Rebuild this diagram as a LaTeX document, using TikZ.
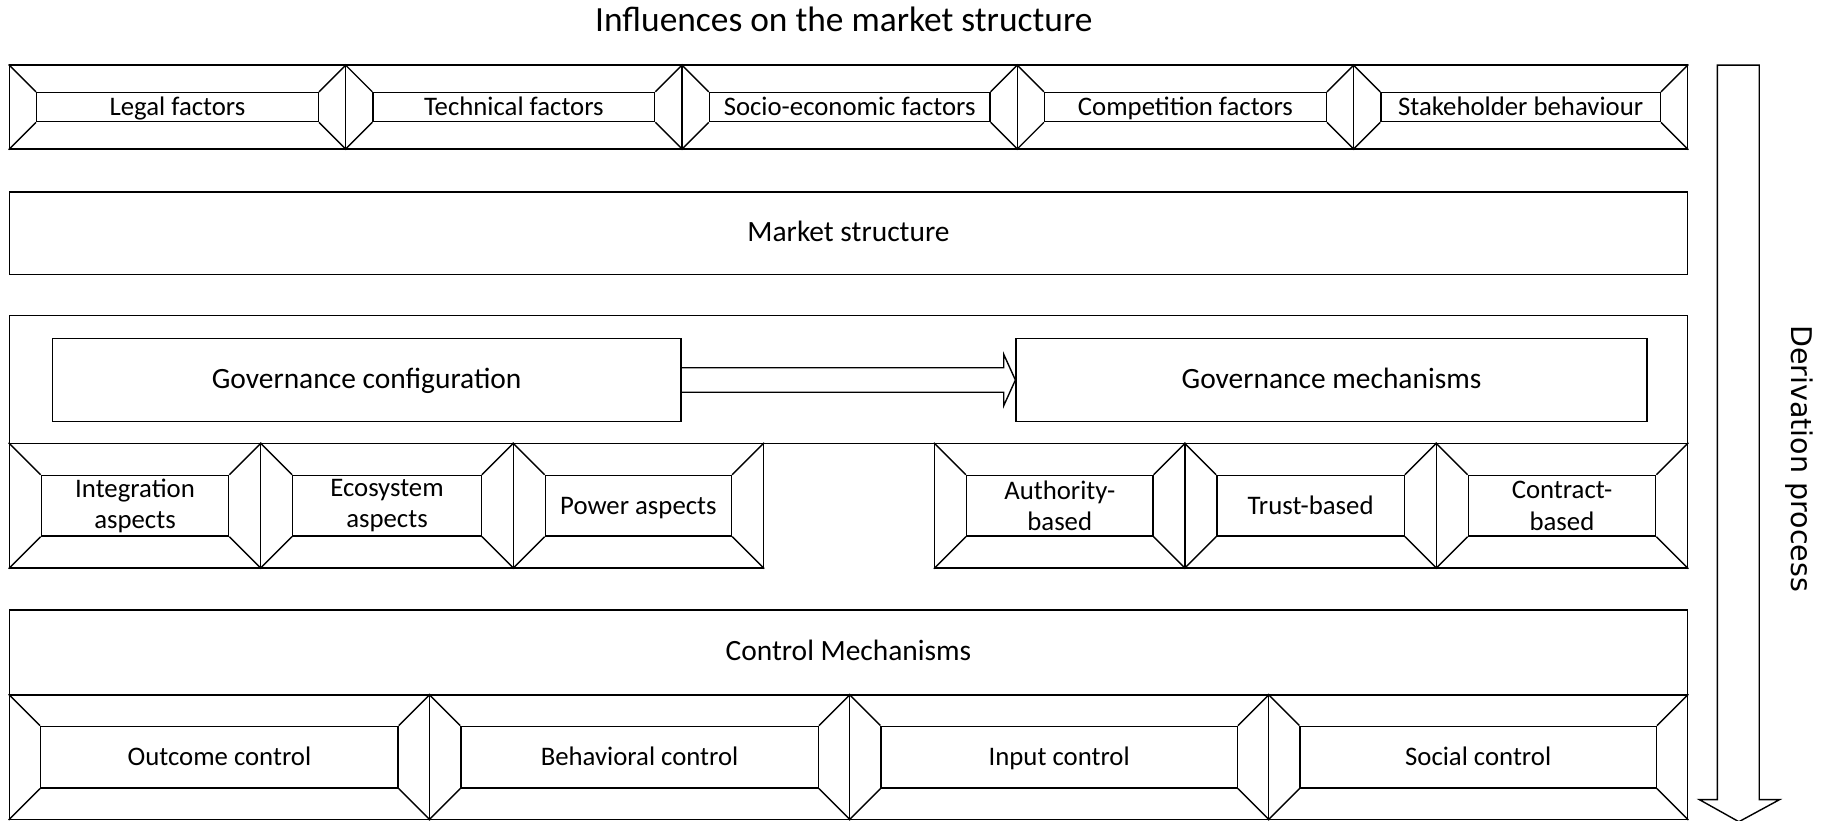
\documentclass[tikz,border=0pt]{standalone}
\usepackage{fontspec}
\setmainfont{Carlito}
\newfontfamily\dvsans{DejaVu Sans}
\usetikzlibrary{fit,calc}
\tikzset{
  box/.style={draw, inner sep=0pt, line width=0.6pt},
  one/.style={text height=1.85ex, text depth=0.3ex},
  lbl/.style={font=\fontsize{11.5}{13.5}\selectfont, align=center, inner sep=0pt},
  biglbl/.style={font=\fontsize{12.65}{15}\selectfont, inner sep=0pt, one},
  diag/.style={line width=0.6pt},
}
\newcommand\bevbox[8][one]{% [label style] name x1 y1 x2 y2 inset text
  \node[box, fit={(#3,#4) (#5,#6)}] (#2o) {};
  \node[box, fit={({#3+#7},{#4+#7}) ({#5-#7},{#6-#7})}] (#2i) {};
  \draw[diag] (#2o.north west) -- (#2i.north west)
              (#2o.north east) -- (#2i.north east)
              (#2o.south west) -- (#2i.south west)
              (#2o.south east) -- (#2i.south east);
  \node[lbl,#1] (#2t) at (#2i.center) {#8};
}
\begin{document}
\begin{tikzpicture}[x=0.5pt, y=-0.5pt]
\useasboundingbox (0,0) rectangle (1568,705);

% title
\node[font=\fontsize{15.2}{18}\selectfont, inner sep=0pt, one] (title) at (725,20) {Influences on the market structure};

% row 1: influences
\bevbox{inf1}{8}{56}{297}{128}{23.5}{Legal factors}
\bevbox{inf2}{297}{56}{586}{128}{23.5}{Technical factors}
\bevbox{inf3}{586}{56}{874}{128}{23.5}{Socio-economic factors}
\bevbox{inf4}{874}{56}{1163}{128}{23.5}{Competition factors}
\bevbox{inf5}{1163}{56}{1450}{128}{23.5}{Stakeholder behaviour}

% market structure
\node[box, fit={(8,165) (1450,236)}] (ms) {};
\node[biglbl] (mst) at (ms.center) {Market structure};

% governance
\node[box, fit={(8,271) (1450,381)}] (gov) {};
\node[box, fit={(45,291) (585,362)}] (gc) {};
\node[biglbl] (gct) at (gc.center) {Governance configuration};
\node[box, fit={(873,291) (1415,362)}] (gm) {};
\node[biglbl] (gmt) at (gm.center) {Governance mechanisms};
\draw[diag] ($(gc.east)+(0,-10.5)$) -- ($(gm.west)+(-10,-10.5)$) -- ($(gm.west)+(-10,-22)$)
  -- (gm.west) -- ($(gm.west)+(-10,22)$) -- ($(gm.west)+(-10,10.5)$) -- ($(gc.east)+(0,10.5)$);

\bevbox[]{gc1}{8}{381}{224}{488}{27.5}{Integration\\aspects}
\bevbox[]{gc2}{224}{381}{441}{488}{27.5}{Ecosystem\\aspects}
\bevbox{gc3}{441}{381}{656}{488}{27.5}{Power aspects}
\bevbox[]{gm1}{803}{381}{1018}{488}{27.5}{Authority-\\based}
\bevbox{gm2}{1018}{381}{1234}{488}{27.5}{Trust-based}
\bevbox[]{gm3}{1234}{381}{1450}{488}{27.5}{Contract-\\based}

% control mechanisms
\node[box, fit={(8,524) (1450,597)}] (cm) {};
\node[biglbl] (cmt) at (cm.center) {Control Mechanisms};
\bevbox{cm1}{8}{597}{369}{704}{27}{Outcome control}
\bevbox{cm2}{369}{597}{730}{704}{27}{Behavioral control}
\bevbox{cm3}{730}{597}{1090}{704}{27}{Input control}
\bevbox{cm4}{1090}{597}{1450}{704}{27}{Social control}

% derivation arrow
\draw[diag] (1475.5,687) -- (1475.5,56) -- (1511.5,56) -- (1511.5,687) -- (1529,687)
  -- (1494,706) -- (1460,687) -- cycle;
\node[font=\dvsans\fontsize{12.25}{14}\selectfont, rotate=-90, inner sep=0pt] (deriv) at (1546,394) {Derivation process};
\end{tikzpicture}
\end{document}
